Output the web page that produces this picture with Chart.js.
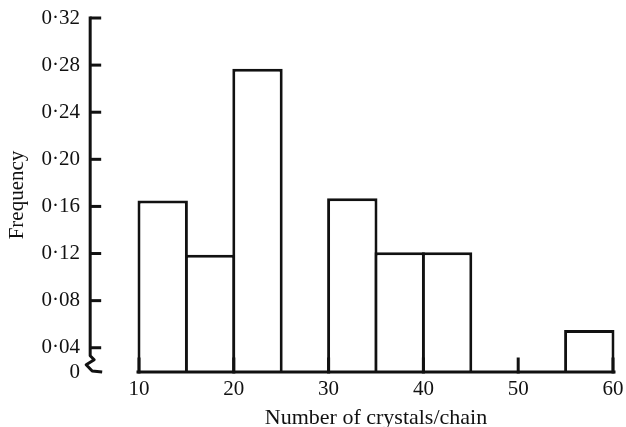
<!DOCTYPE html>
<html>
<head>
<meta charset="utf-8">
<script src="https://cdn.jsdelivr.net/npm/chart.js@4"></script>
<style>
  html, body { margin: 0; padding: 0; background: #fff; }
  #wrap { width: 626px; height: 427px; }
</style>
</head>
<body>
<div id="wrap"><canvas id="myChart" width="626" height="427"></canvas></div>
<script>
// histogram bins (number of crystals per chain), 5 wide
const binStarts = [10, 15, 20, 25, 30, 35, 40, 45, 50, 55];
const binWidth = 5;
const frequency = [0.165, 0.119, 0.277, null, 0.167, 0.121, 0.121, null, null, 0.055];

const xTickValues = [10, 20, 30, 40, 50, 60];
const yTickValues = [0.04, 0.08, 0.12, 0.16, 0.20, 0.24, 0.28, 0.32];
const yTickLabels = ['0·04', '0·08', '0·12', '0·16', '0·20', '0·24', '0·28', '0·32'];
// the y axis is broken: its bottom is labelled 0
const yBreakValue = 0.0194;
const yZeroLabel = '0';
// x value where the (offset) y axis line stands
const yAxisAtX = 4.85;

const ink = '#111';
const serif = "'Liberation Serif', 'Times New Roman', serif";

const ctx = document.getElementById('myChart');

// Draws the hand-drawn looking axes: baseline, inward ticks and the axis break
const axesPlugin = {
    id: 'axesPlugin',
    afterDatasetsDraw(chart) {
        const c = chart.ctx;
        const x = chart.scales.x;
        const y = chart.scales.y;
        const bottom = y.getPixelForValue(yBreakValue);
        c.save();
        c.strokeStyle = ink;
        c.lineWidth = 3;
        c.lineCap = 'square';

        // baseline under the bars
        c.beginPath();
        c.moveTo(x.getPixelForValue(xTickValues[0]) - 1, bottom);
        c.lineTo(x.getPixelForValue(xTickValues[xTickValues.length - 1]) + 1, bottom);
        c.stroke();

        // x ticks pointing up
        xTickValues.forEach(v => {
            const px = x.getPixelForValue(v);
            c.beginPath();
            c.moveTo(px, bottom);
            c.lineTo(px, bottom - 13);
            c.stroke();
        });

        // y axis with the break near zero
        const ax = x.getPixelForValue(yAxisAtX);
        const y04 = y.getPixelForValue(yTickValues[0]);
        c.lineCap = 'butt';
        c.lineJoin = 'round';
        c.beginPath();
        c.moveTo(ax, y.getPixelForValue(yTickValues[yTickValues.length - 1]) - 1.5);
        c.lineTo(ax, y04 + 8);
        c.lineTo(ax + 4, y04 + 12);
        c.lineTo(ax - 4, y04 + 17);
        c.lineTo(ax + 2, bottom - 1);
        c.lineTo(ax + 12, bottom);
        c.stroke();

        yTickValues.forEach(v => {
            const py = y.getPixelForValue(v);
            c.beginPath();
            c.moveTo(ax, py);
            c.lineTo(ax + 11, py);
            c.stroke();
        });
        c.restore();
    }
};

const myChart = new Chart(ctx, {
    type: 'bar',
    plugins: [axesPlugin],
    data: {
        datasets: [{
            data: binStarts.map((s, i) => ({ x: s + binWidth / 2, y: frequency[i] })),
            backgroundColor: '#fff',
            borderColor: ink,
            borderWidth: 3,
            borderSkipped: 'start',
            base: yBreakValue,
            barPercentage: 1.063,
            categoryPercentage: 1,
            clip: false
        }]
    },
    options: {
        responsive: false,
        animation: false,
        layout: { padding: { top: 18, right: 13, bottom: 0, left: 0 } },
        plugins: {
            legend: { display: false },
            tooltip: { enabled: false }
        },
        scales: {
            x: {
                type: 'linear',
                min: 10,
                max: 60,
                offset: false,
                afterFit(scale) {
                    scale.height = 55;
                    scale.paddingLeft = 0;
                    scale.paddingRight = 10;
                },
                afterBuildTicks(scale) { scale.ticks = xTickValues.map(v => ({ value: v })); },
                grid: { display: false, drawTicks: false },
                border: { display: false },
                ticks: {
                    padding: 5,
                    color: ink,
                    font: { family: serif, size: 21 },
                    maxRotation: 0,
                    autoSkip: false
                },
                title: {
                    display: true,
                    text: 'Number of crystals/chain',
                    color: ink,
                    font: { family: serif, size: 22 },
                    padding: { top: 0, bottom: -4 }
                }
            },
            y: {
                type: 'linear',
                min: yBreakValue,
                max: 0.32,
                afterFit(scale) {
                    scale.width = 139;
                    // the large label padding would otherwise shrink the plot vertically
                    scale.paddingTop = 10;
                    scale.paddingBottom = 10;
                },
                afterBuildTicks(scale) {
                    scale.ticks = [yBreakValue].concat(yTickValues).map(v => ({ value: v }));
                },
                grid: { display: false, drawTicks: false },
                border: { display: false },
                ticks: {
                    padding: 59,
                    color: ink,
                    font: { family: serif, size: 21 },
                    autoSkip: false,
                    callback: function (value) {
                        if (value === yBreakValue) return yZeroLabel;
                        const i = yTickValues.indexOf(value);
                        return i >= 0 ? yTickLabels[i] : '';
                    }
                },
                title: {
                    display: true,
                    text: 'Frequency',
                    color: ink,
                    font: { family: serif, size: 21 },
                    padding: { top: 5, bottom: 0 }
                }
            }
        }
    }
});
</script>
</body>
</html>
